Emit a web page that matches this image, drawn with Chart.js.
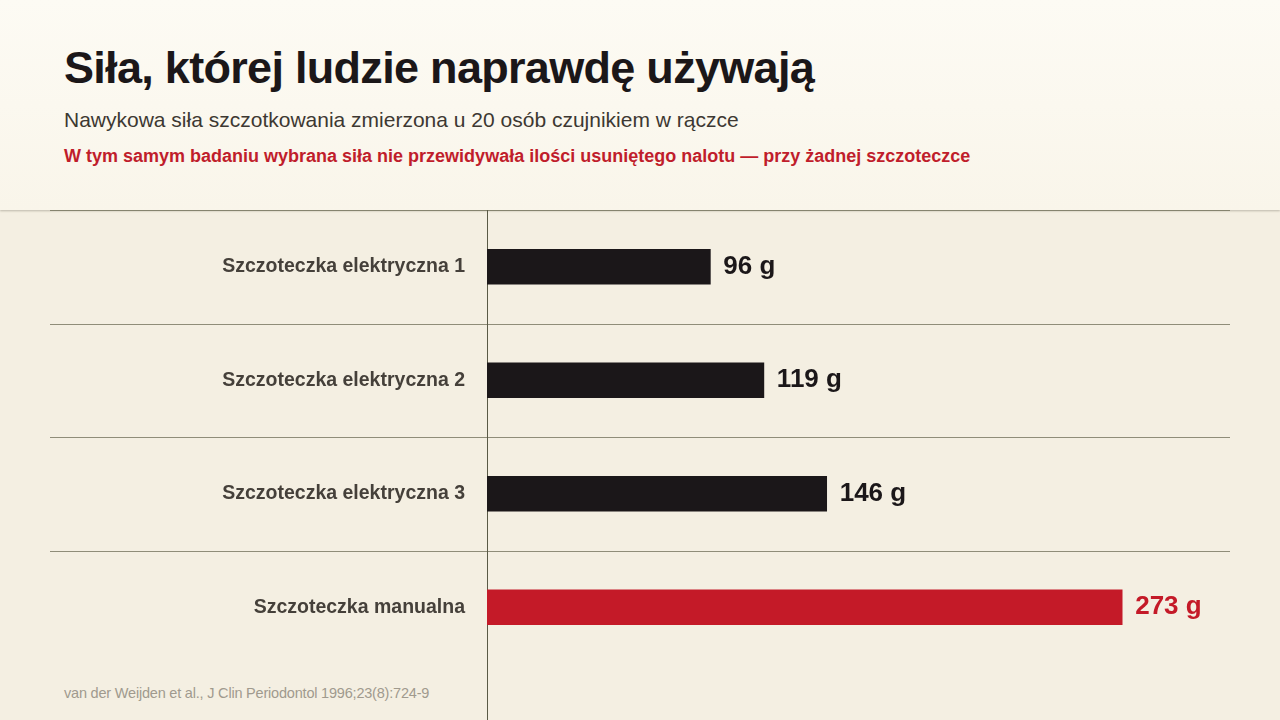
<!DOCTYPE html>
<html lang="pl">
<head>
<meta charset="utf-8">
<script src="https://cdn.jsdelivr.net/npm/chart.js@4"></script>
<style>
  html, body { margin:0; padding:0; }
  body {
    width:1280px; height:720px; position:relative; overflow:hidden;
    background:#f4efe2;
    font-family: "Liberation Sans", Arial, sans-serif;
  }
  .header {
    position:absolute; left:0; top:0; width:1280px; height:210px;
    background:linear-gradient(#fdfbf4, #f9f5ea);
    box-shadow:0 1px 2px rgba(60,55,40,0.3);
  }
  .title { position:absolute; left:64px; top:42px; font-size:45px; font-weight:700; color:#1b1719; letter-spacing:-0.7px; }
  .subtitle { position:absolute; left:64px; top:108px; font-size:21px; color:#3d3832; }
  .note { position:absolute; left:64px; top:146px; font-size:18px; font-weight:700; color:#c01d2b; }
  .source { position:absolute; left:64px; top:685px; font-size:14.5px; color:#a09a8e; letter-spacing:-0.2px; }
  #wrap { position:absolute; left:0; top:0; width:1280px; height:720px; }
</style>
</head>
<body>
<div class="header"></div>
<div class="title">Siła, której ludzie naprawdę używają</div>
<div class="subtitle">Nawykowa siła szczotkowania zmierzona u 20 osób czujnikiem w rączce</div>
<div class="note">W tym samym badaniu wybrana siła nie przewidywała ilości usuniętego nalotu — przy żadnej szczoteczce</div>
<div class="source">van der Weijden et al., J Clin Periodontol 1996;23(8):724-9</div>
<div id="wrap"><canvas id="chart"></canvas></div>

<script>
// Brushing force per brush type (grams)
const brushes = ['Szczoteczka elektryczna 1', 'Szczoteczka elektryczna 2', 'Szczoteczka elektryczna 3', 'Szczoteczka manualna'];
const forceG  = [96, 119, 146, 273];
const barColors = ['#1b1719', '#1b1719', '#1b1719', '#c41a28'];
const labelColors = ['#1b1719', '#1b1719', '#1b1719', '#c41a28'];

// separators between rows, zero line, value labels
const decorPlugin = {
  id: 'decor',
  beforeDatasetsDraw(chart) {
    const { ctx, chartArea, scales: { x, y } } = chart;
    ctx.save();
    ctx.strokeStyle = 'rgba(110,108,86,0.75)';
    ctx.lineWidth = 1;
    for (let i = 0; i <= brushes.length - 1; i++) {
      const yy = i === 0 ? chartArea.top : (y.getPixelForValue(i - 1) + y.getPixelForValue(i)) / 2;
      ctx.beginPath();
      ctx.moveTo(50, Math.round(yy) + 0.5);
      ctx.lineTo(1230, Math.round(yy) + 0.5);
      ctx.stroke();
    }
    ctx.strokeStyle = '#5a5a46';
    const x0 = Math.round(x.getPixelForValue(0)) + 0.5;
    ctx.beginPath();
    ctx.moveTo(x0, chartArea.top);
    ctx.lineTo(x0, chart.height);
    ctx.stroke();
    ctx.restore();
  },
  afterDatasetsDraw(chart) {
    const { ctx } = chart;
    const meta = chart.getDatasetMeta(0);
    ctx.save();
    ctx.font = 'bold 26px "Liberation Sans", Arial, sans-serif';
    ctx.textBaseline = 'middle';
    ctx.textAlign = 'left';
    meta.data.forEach((bar, i) => {
      ctx.fillStyle = labelColors[i];
      ctx.fillText(forceG[i] + ' g', bar.x + 13, bar.y);
    });
    ctx.restore();
  }
};

new Chart(document.getElementById('chart'), {
  type: 'bar',
  data: {
    labels: brushes,
    datasets: [{
      data: forceG,
      backgroundColor: barColors,
      barThickness: 35,
      borderWidth: 0
    }]
  },
  options: {
    indexAxis: 'y',
    responsive: true,
    maintainAspectRatio: false,
    animation: false,
    layout: { padding: { top: 210, bottom: 56, right: 95, left: 0 } },
    plugins: { legend: { display: false }, tooltip: { enabled: false } },
    scales: {
      x: {
        min: 0, max: 300,
        display: false
      },
      y: {
        grid: { display: false, drawTicks: false },
        border: { display: false },
        afterFit(s) { s.width = 487; },
        ticks: {
          padding: 22,
          color: '#45403a',
          font: { family: '"Liberation Sans", Arial, sans-serif', size: 19.5, weight: 'bold' }
        }
      }
    }
  },
  plugins: [decorPlugin]
});
</script>
</body>
</html>
